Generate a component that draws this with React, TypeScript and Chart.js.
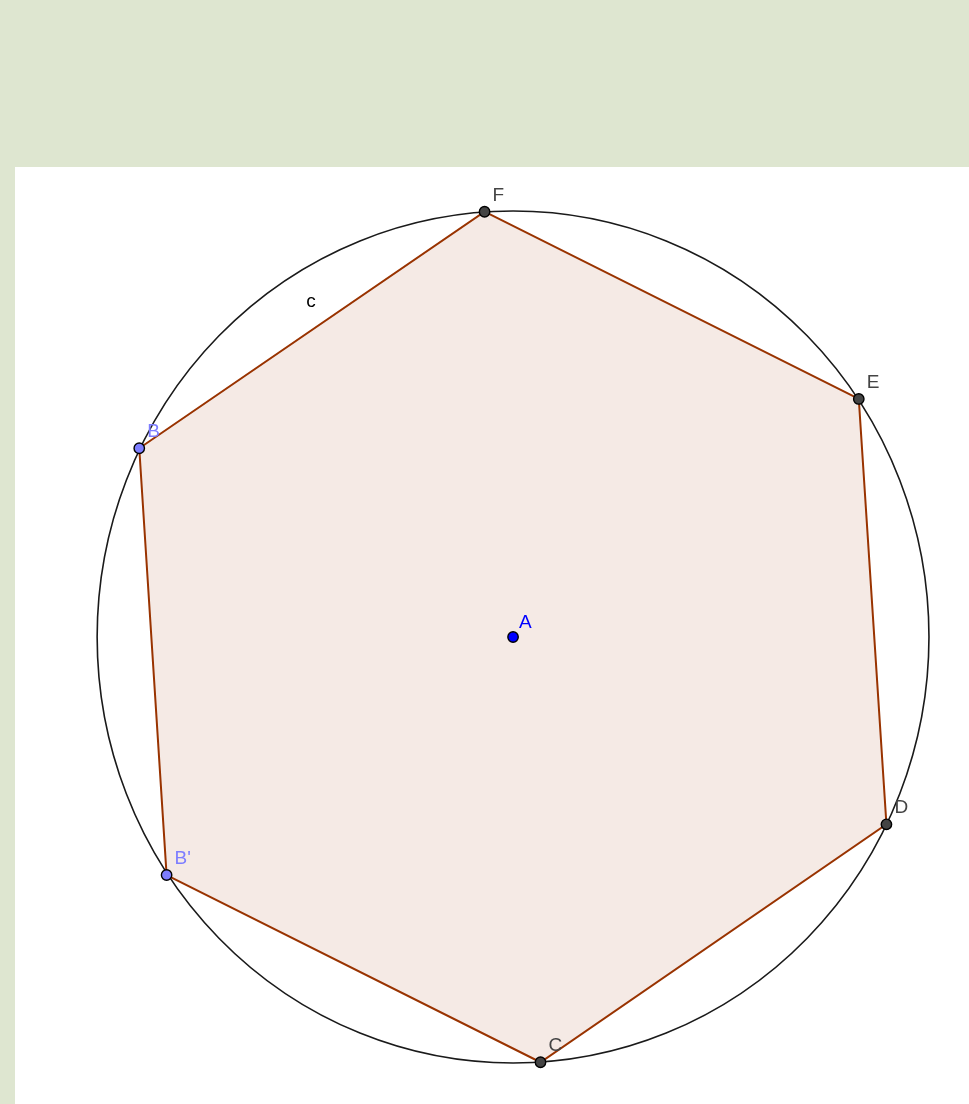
import React, { useEffect, useRef } from "react";
import { Chart, registerables } from "chart.js";

Chart.register(...registerables);

// Hexagon vertices (geometry units, A at origin)
const vertexNames = ["B", "F", "E", "D", "C", "B'"];
const vertexX = [-3.595, -0.274, 3.325, 3.591, 0.264, -3.332];
const vertexY = [1.772, 3.993, 2.235, -1.759, -3.993, -2.235];
const vertexFill = ["#7d7dff", "#444444", "#444444", "#444444", "#444444", "#7d7dff"];
const vertexLabelColor = ["#7d7dff", "#444444", "#444444", "#444444", "#444444", "#7d7dff"];

// Center point
const centerNames = ["A"];
const centerX = [0];
const centerY = [0];

// Circle c
const circleRadius = 4;
const circleLabel = "c";
const circleLabelX = -1.99;
const circleLabelY = 3.1;

// Visible window
const xRange = [-4.79, 4.385];
const yRange = [-4.385, 4.413];

const GREEN = "rgb(222,230,208)";

const geoPlugin = {
  id: "geoExtras",
  beforeDatasetsDraw(chart: any) {
    const ctx = chart.ctx;
    const xs = chart.scales.x;
    const ys = chart.scales.y;
    // polygon fill
    const meta = chart.getDatasetMeta(0);
    ctx.save();
    ctx.beginPath();
    meta.data.forEach((p: any, i: number) => {
      if (i === 0) ctx.moveTo(p.x, p.y);
      else ctx.lineTo(p.x, p.y);
    });
    ctx.closePath();
    ctx.fillStyle = "rgba(153,51,0,0.1)";
    ctx.fill();
    // circle
    const cx = xs.getPixelForValue(centerX[0]);
    const cy = ys.getPixelForValue(centerY[0]);
    const rx = xs.getPixelForValue(centerX[0] + circleRadius) - cx;
    const ry = cy - ys.getPixelForValue(centerY[0] + circleRadius);
    ctx.beginPath();
    ctx.ellipse(cx, cy, rx, ry, 0, 0, Math.PI * 2);
    ctx.strokeStyle = "#1a1a1a";
    ctx.lineWidth = 1.6;
    ctx.stroke();
    ctx.restore();
  },
  afterDatasetsDraw(chart: any) {
    const ctx = chart.ctx;
    const xs = chart.scales.x;
    const ys = chart.scales.y;
    ctx.save();
    ctx.font = '19px "Liberation Sans", Arial, sans-serif';
    ctx.textAlign = "left";
    ctx.textBaseline = "alphabetic";
    const vm = chart.getDatasetMeta(1);
    vm.data.forEach((p: any, i: number) => {
      ctx.fillStyle = vertexLabelColor[i];
      ctx.fillText(vertexNames[i], p.x + 8, p.y - 11);
    });
    const cm = chart.getDatasetMeta(2);
    cm.data.forEach((p: any, i: number) => {
      ctx.fillStyle = "#0000ff";
      ctx.fillText(centerNames[i], p.x + 6, p.y - 9);
    });
    ctx.fillStyle = "#000000";
    ctx.fillText(circleLabel, xs.getPixelForValue(circleLabelX), ys.getPixelForValue(circleLabelY));
    ctx.restore();
  },
};

export default function App() {
  const ref = useRef<HTMLCanvasElement>(null);
  useEffect(() => {
    if (!ref.current) return;
    const polygon = vertexX.map((x, i) => ({ x, y: vertexY[i] }));
    polygon.push({ x: vertexX[0], y: vertexY[0] });
    const chart = new Chart(ref.current, {
      type: "scatter",
      data: {
        datasets: [
          {
            data: polygon,
            showLine: true,
            borderColor: "#993300",
            borderWidth: 2,
            pointRadius: 0,
            fill: false,
            clip: false as any,
            order: 3,
          },
          {
            data: vertexX.map((x, i) => ({ x, y: vertexY[i] })),
            showLine: false,
            pointRadius: 5.2,
            pointBackgroundColor: vertexFill,
            pointBorderColor: "#000000",
            pointBorderWidth: 1.4,
            order: 2,
          },
          {
            data: centerX.map((x, i) => ({ x, y: centerY[i] })),
            showLine: false,
            pointRadius: 5.2,
            pointBackgroundColor: "#0000ff",
            pointBorderColor: "#000000",
            pointBorderWidth: 1.4,
            order: 1,
          },
        ],
      },
      options: {
        animation: false,
        responsive: false,
        events: [],
        layout: { padding: 0, autoPadding: false },
        plugins: { legend: { display: false }, tooltip: { enabled: false } },
        scales: {
          x: { type: "linear", min: xRange[0], max: xRange[1], display: false },
          y: { type: "linear", min: yRange[0], max: yRange[1], display: false },
        },
      },
      plugins: [geoPlugin],
    });
    return () => chart.destroy();
  }, []);
  return (
    <div
      style={{
        position: "fixed",
        left: 0,
        top: 0,
        width: 969,
        height: 1104,
        background: GREEN,
        overflow: "hidden",
      }}
    >
      <div
        style={{
          position: "absolute",
          left: 15,
          top: 167,
          width: 954,
          height: 937,
          background: "#ffffff",
        }}
      >
        <canvas ref={ref} width={954} height={937} style={{ display: "block" }} />
      </div>
    </div>
  );
}
